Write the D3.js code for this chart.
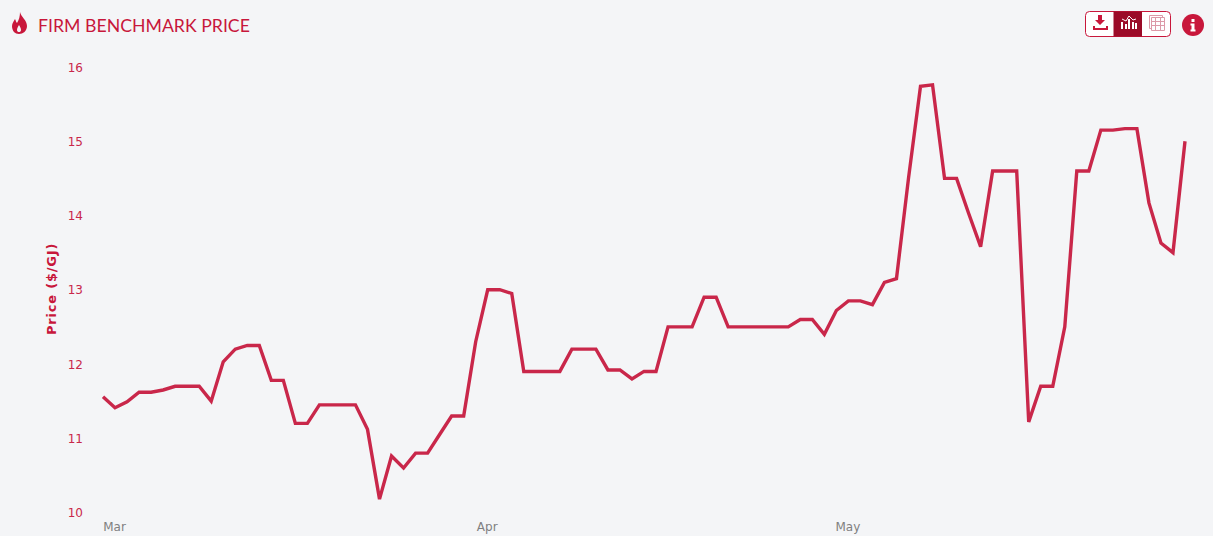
<!DOCTYPE html>
<html><head><meta charset="utf-8">
<script src="https://cdn.jsdelivr.net/npm/d3@7/dist/d3.min.js"></script>
<style>
html,body{margin:0;padding:0;background:#f4f5f7;overflow:hidden}
svg{display:block}
</style></head><body><svg id="c" width="1213" height="536"></svg>
<script>
const titleText = "FIRM BENCHMARK PRICE";
const yAxisLabel = "Price ($/GJ)";
const yTicks = [10,11,12,13,14,15,16];
const startDate = "2024-02-29";
const prices = [
11.56,11.41,11.49,11.62,11.62,11.65,11.70,11.70,11.70,11.50,
12.03,12.20,12.25,12.25,11.78,11.78,11.20,11.20,11.45,11.45,
11.45,11.45,11.12,10.18,10.76,10.60,10.80,10.80,11.05,11.30,
11.30,12.30,13.00,13.00,12.95,11.90,11.90,11.90,11.90,12.20,
12.20,12.20,11.92,11.92,11.80,11.90,11.90,12.50,12.50,12.50,
12.90,12.90,12.50,12.50,12.50,12.50,12.50,12.50,12.60,12.60,
12.40,12.72,12.85,12.85,12.80,13.10,13.15,14.50,15.74,15.76,
14.50,14.50,14.03,13.58,14.60,14.60,14.60,11.22,11.70,11.70,
12.50,14.60,14.60,15.15,15.15,15.17,15.17,14.17,13.63,13.50,15.00];

const RED="#c8173b", LINE="#c9274a", DARK="#9b0b28", GREY="#808080";
const parse=d3.utcParse("%Y-%m-%d");
const dates=prices.map((_,i)=>d3.utcDay.offset(parse(startDate),i));
const svg=d3.select("#c");
const x=d3.scaleUtc().domain(d3.extent(dates)).range([103,1185]);
const y=d3.scaleLinear().domain([10,16]).range([512.5,67]);

// Line
svg.append("path").datum(prices)
  .attr("fill","none").attr("stroke",LINE).attr("stroke-width",3.4)
  .attr("stroke-linejoin","miter")
  .attr("d",d3.line().x((d,i)=>x(dates[i])).y(d=>y(d)));

// Y axis
const ya=svg.append("g").attr("transform","translate(83,0.5)")
  .call(d3.axisLeft(y).tickValues(yTicks).tickSize(0).tickPadding(0).tickFormat(d3.format("d")));
ya.select(".domain").remove();
ya.selectAll("text").attr("fill",LINE).attr("font-family","DejaVu Sans").attr("font-size",12).attr("dy","0.3em");

// X axis
const xa=svg.append("g").attr("transform","translate(0,522.5)")
  .call(d3.axisBottom(x).ticks(d3.utcMonth.every(1)).tickSize(0).tickPadding(0).tickFormat(d3.utcFormat("%b")));
xa.select(".domain").remove();
xa.selectAll("text").attr("fill",GREY).attr("font-family","DejaVu Sans").attr("font-size",12).attr("dx",-1).attr("dy","0.71em");

// Axis title
svg.append("text").text(yAxisLabel)
  .attr("transform","translate(56,289) rotate(-90)").attr("text-anchor","middle")
  .attr("fill",RED).attr("font-family","DejaVu Sans").attr("font-weight","bold").attr("font-size",13)
  .attr("letter-spacing",0.8);

// Title and flame
svg.append("text").text(titleText).attr("x",38).attr("y",32)
  .attr("fill",RED).attr("font-family","Lato").attr("font-size",17.7);
svg.append("path").attr("fill",RED).attr("fill-rule","evenodd")
  .attr("d","M20,12 C21,17 27,20 27,26 C27,31 23,34 19,34 C15,34 12,31 12,26 C12,23 14,21 15,19 C16,21 16,22 17,23 C19,20 20,16 20,12 Z M19,25 C18,27 17,28 17,30 C17,31.5 18,32 19,32 C20,32 21,31.5 21,30 C21,28 20,27 19,25 Z");

// Button group
const g=svg.append("g");
g.append("rect").attr("x",1085.5).attr("y",11.5).attr("width",85).attr("height",25).attr("rx",4).attr("fill","#fff").attr("stroke",RED);
g.append("rect").attr("x",1113.5).attr("y",11.5).attr("width",28.5).attr("height",25).attr("fill",DARK);
// download icon
g.append("path").attr("fill",RED).attr("d","M1098,15 h4 v5 h3 l-5,5 l-5,-5 h3 Z");
g.append("path").attr("fill","none").attr("stroke",RED).attr("stroke-width",2).attr("d","M1094,26 v3 h13 v-3");
// chart icon
const bars=[[1121,22,7],[1125,24,5],[1128,19,10],[1132,22,7],[1135,23,6]];
bars.forEach(b=>g.append("rect").attr("x",b[0]).attr("y",b[1]).attr("width",2).attr("height",b[2]).attr("fill","#fff"));
g.append("path").attr("fill","none").attr("stroke","#fff").attr("d","M1122,19 L1126,21 L1129,16 L1133,20 L1136,19");
// table icon
const tb=g.append("g").attr("stroke","#dc9aa8").attr("stroke-width",1).attr("fill","none");
tb.append("path").attr("d","M1149.5,15.5 h13 v2 M1149.5,15.5 v13 h2");
tb.append("path").attr("d","M1151.5,17.5 h13 v13 h-13 Z M1151.5,21.5 h13 M1151.5,25.5 h13 M1155.5,17.5 v13 M1160.5,17.5 v13");
// info
svg.append("circle").attr("cx",1193).attr("cy",25).attr("r",11).attr("fill",RED);
svg.append("path").attr("fill","#fff").attr("d","M1191.5,19 h3 v3 h-3 Z M1190.5,23.5 h4 v6 h1 v2 h-5 v-2 h1 v-4 h-1 Z");
</script></body></html>
